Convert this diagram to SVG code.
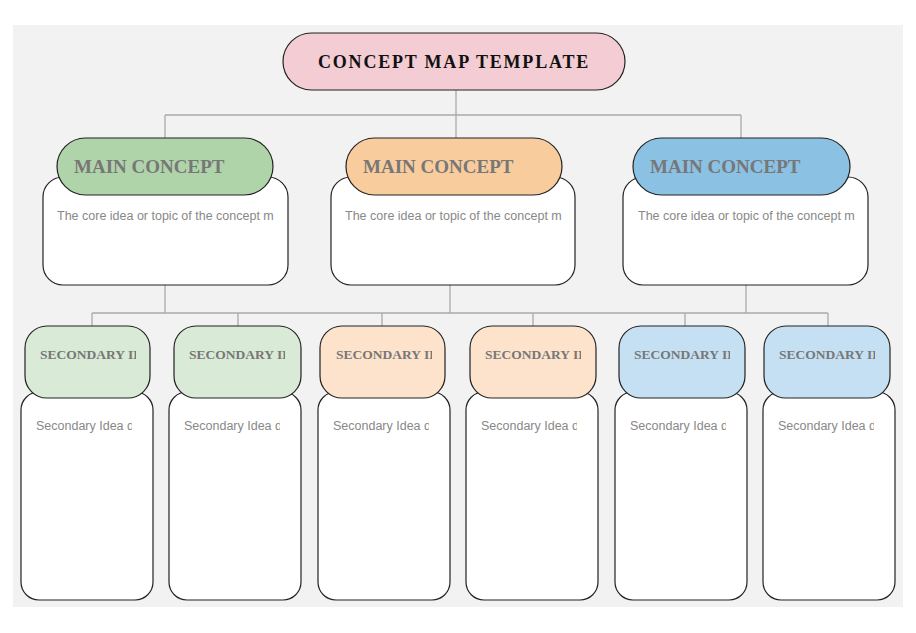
<svg xmlns="http://www.w3.org/2000/svg" width="916" height="633" viewBox="0 0 916 633">
<style>
.n{stroke:#222;stroke-width:1.2}
.b{fill:#fff}
.c{fill:none;stroke:#aaa;stroke-width:1.3}
.mt{font-family:"Liberation Serif",serif;font-weight:bold;font-size:19px;fill:#777}
.st{font-family:"Liberation Serif",serif;font-weight:bold;font-size:13.5px;fill:#777}
.bt{font-family:"Liberation Sans",sans-serif;font-size:12.5px;fill:#888}
</style>
<defs>
<clipPath id="cm"><rect x="0" y="0" width="217" height="100"/></clipPath>
<clipPath id="cs"><rect x="0" y="0" width="96" height="100"/></clipPath>
</defs>
<rect x="13" y="25" width="890" height="582" fill="#f2f2f2"/>
<g id="connectors" class="c">
<path d="M456 90V138M165 115H741M165 115V138M741 115V138"/>
<path d="M165 285V313M450 285V313M746 285V313M92 313H828"/>
<path d="M92 313V326M238 313V326M382 313V326M533 313V326M685 313V326M828 313V326"/>
</g>
<g id="title"><rect class="n" x="283" y="33" width="342" height="57" rx="28.5" fill="#f4ccd3"/>
<text x="454" y="68" text-anchor="middle" font-family="Liberation Serif,serif" font-weight="bold" font-size="18" letter-spacing="1.8" fill="#111">CONCEPT MAP TEMPLATE</text></g>
<g id="main1"><rect class="n b" x="43" y="177" width="245" height="108" rx="20"/><rect class="n" x="57" y="138" width="216" height="57" rx="28.5" fill="#b0d4aa"/>
<text class="mt" x="74" y="173">MAIN CONCEPT</text><g transform="translate(57,205)" clip-path="url(#cm)"><text class="bt" x="0" y="15">The core idea or topic of the concept map</text></g></g>
<g id="main2"><rect class="n b" x="331" y="177" width="244" height="108" rx="20"/><rect class="n" x="346" y="138" width="216" height="57" rx="28.5" fill="#f9cc9d"/>
<text class="mt" x="363" y="173">MAIN CONCEPT</text><g transform="translate(345,205)" clip-path="url(#cm)"><text class="bt" x="0" y="15">The core idea or topic of the concept map</text></g></g>
<g id="main3"><rect class="n b" x="623" y="177" width="245" height="108" rx="20"/><rect class="n" x="633" y="138" width="217" height="57" rx="28.5" fill="#8bc1e3"/>
<text class="mt" x="650" y="173">MAIN CONCEPT</text><g transform="translate(638,205)" clip-path="url(#cm)"><text class="bt" x="0" y="15">The core idea or topic of the concept map</text></g></g>
<g id="sec1"><rect class="n b" x="21" y="392" width="132" height="208" rx="18"/><rect class="n" x="25" y="326" width="125" height="72" rx="22" fill="#d9ead6"/>
<g transform="translate(40,340)" clip-path="url(#cs)"><text class="st" x="0" y="19">SECONDARY IDEA</text></g><g transform="translate(36,415)" clip-path="url(#cs)"><text class="bt" x="0" y="15">Secondary Idea description</text></g></g>
<g id="sec2"><rect class="n b" x="169" y="392" width="132" height="208" rx="18"/><rect class="n" x="174" y="326" width="127" height="72" rx="22" fill="#d9ead6"/>
<g transform="translate(189,340)" clip-path="url(#cs)"><text class="st" x="0" y="19">SECONDARY IDEA</text></g><g transform="translate(184,415)" clip-path="url(#cs)"><text class="bt" x="0" y="15">Secondary Idea description</text></g></g>
<g id="sec3"><rect class="n b" x="318" y="392" width="132" height="208" rx="18"/><rect class="n" x="320" y="326" width="125" height="72" rx="22" fill="#fde3cc"/>
<g transform="translate(336,340)" clip-path="url(#cs)"><text class="st" x="0" y="19">SECONDARY IDEA</text></g><g transform="translate(333,415)" clip-path="url(#cs)"><text class="bt" x="0" y="15">Secondary Idea description</text></g></g>
<g id="sec4"><rect class="n b" x="466" y="392" width="132" height="208" rx="18"/><rect class="n" x="470" y="326" width="126" height="72" rx="22" fill="#fde3cc"/>
<g transform="translate(485,340)" clip-path="url(#cs)"><text class="st" x="0" y="19">SECONDARY IDEA</text></g><g transform="translate(481,415)" clip-path="url(#cs)"><text class="bt" x="0" y="15">Secondary Idea description</text></g></g>
<g id="sec5"><rect class="n b" x="615" y="392" width="132" height="208" rx="18"/><rect class="n" x="619" y="326" width="126" height="72" rx="22" fill="#c5e0f3"/>
<g transform="translate(634,340)" clip-path="url(#cs)"><text class="st" x="0" y="19">SECONDARY IDEA</text></g><g transform="translate(630,415)" clip-path="url(#cs)"><text class="bt" x="0" y="15">Secondary Idea description</text></g></g>
<g id="sec6"><rect class="n b" x="763" y="392" width="132" height="208" rx="18"/><rect class="n" x="764" y="326" width="126" height="72" rx="22" fill="#c5e0f3"/>
<g transform="translate(779,340)" clip-path="url(#cs)"><text class="st" x="0" y="19">SECONDARY IDEA</text></g><g transform="translate(778,415)" clip-path="url(#cs)"><text class="bt" x="0" y="15">Secondary Idea description</text></g></g>
</svg>
